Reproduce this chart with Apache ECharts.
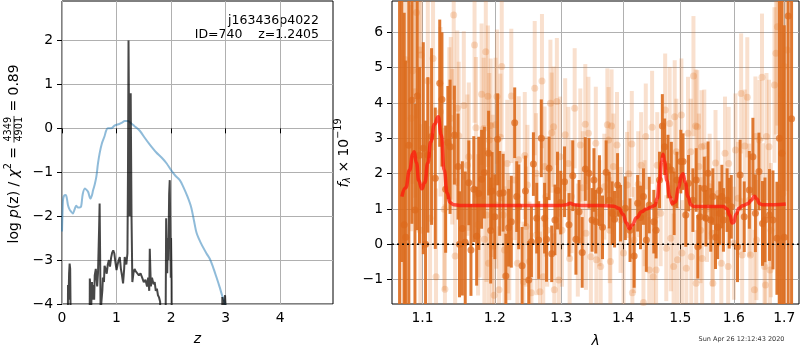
<!DOCTYPE html>
<html>
<head>
<meta charset="utf-8">
<script src="https://cdn.jsdelivr.net/npm/echarts@6/dist/echarts.min.js"></script>
<style>
html, body { margin: 0; padding: 0; background: #fff; }
#chart { width: 800px; height: 350px; }
</style>
</head>
<body>
<div id="chart"></div>
<script>
// left panel: log p(z)
const zTicks = [0, 1, 2, 3, 4];
const lnpTicks = [-4, -3, -2, -1, 0, 1, 2];

const priorZ = [0.00, 0.01, 0.02, 0.04, 0.07, 0.09, 0.11, 0.14, 0.17, 0.20,
  0.23, 0.26, 0.29, 0.32, 0.35, 0.38, 0.42, 0.45, 0.48, 0.52,
  0.55, 0.57, 0.60, 0.63, 0.66, 0.69, 0.73, 0.78, 0.81, 0.84,
  0.90, 0.97, 1.05, 1.10, 1.15, 1.21, 1.27, 1.33, 1.43, 1.52,
  1.61, 1.73, 1.83, 1.92, 2.01, 2.08, 2.16, 2.22, 2.30, 2.37,
  2.42, 2.47, 2.55, 2.65, 2.71, 2.77, 2.83, 2.89, 2.94, 2.99, 3.02];
const priorVal = [-2.35, -1.90, -1.62, -1.53, -1.52, -1.60, -1.75, -1.85, -1.90, -1.94,
  -1.85, -1.76, -1.80, -1.80, -1.78, -1.50, -1.37, -1.40, -1.45, -1.60,
  -1.52, -1.41, -1.28, -1.10, -0.80, -0.57, -0.35, -0.18, -0.05, 0.00,
  0.00, 0.07, 0.10, 0.13, 0.17, 0.17, 0.11, 0.05, -0.06, -0.22,
  -0.37, -0.55, -0.67, -0.80, -0.97, -1.08, -1.18, -1.32, -1.55, -1.80,
  -2.10, -2.39, -2.62, -2.85, -2.97, -3.16, -3.38, -3.61, -3.82, -3.99, -4.20];

const pzZ = [0.00, 0.10, 0.11, 0.12, 0.13, 0.14, 0.15, 0.16, 0.17,
  0.50, 0.51, 0.52, 0.53, 0.55, 0.56, 0.57, 0.59, 0.60, 0.62,
  0.63, 0.645, 0.66, 0.68, 0.69, 0.70, 0.71, 0.72, 0.74, 0.75,
  0.77, 0.78, 0.80, 0.82, 0.84, 0.86, 0.88, 0.90, 0.92, 0.94,
  0.96, 0.98, 1.00, 1.02, 1.04, 1.06, 1.08, 1.10, 1.12, 1.14,
  1.15, 1.17, 1.18, 1.20, 1.21, 1.22, 1.23, 1.24, 1.25, 1.26,
  1.265, 1.275, 1.29, 1.31, 1.33, 1.35, 1.38, 1.41, 1.44, 1.47,
  1.50, 1.53, 1.56, 1.58, 1.60, 1.61, 1.62, 1.63, 1.65, 1.68,
  1.70, 1.72, 1.74, 1.76, 1.78, 1.80, 1.82,
  1.89, 1.90, 1.91, 1.92, 1.93, 1.94, 1.95, 1.965, 1.976, 1.985, 1.995, 2.00, 2.01, 2.02,
  2.93, 2.94, 2.96, 2.99, 3.01, 3.02, 4.97];
const pzVal = [-8, -8, -3.57, -3.9, -3.3, -3.08, -3.2, -4.5, -8,
  -8, -3.42, -3.6, -4.3, -3.5, -3.9, -3.57, -3.9, -3.35, -3.2,
  -3.16, -3.6, -3.3, -2.3, -1.71, -3.0, -4.5, -3.99, -3.69, -3.4,
  -3.5, -3.13, -3.2, -3.31, -3.1, -3.0, -3.15, -2.95, -2.83, -2.78,
  -2.85, -3.05, -3.23, -3.1, -3.0, -2.93, -3.2, -3.35, -3.53, -3.2,
  -2.93, -2.9, -3.1, -2.85, -1.0, 2.0, 0.0, -2.0, -1.0, 0.8,
  -0.2, -2.0, -3.5, -3.3, -3.2, -3.25, -3.3, -3.35, -3.3, -3.4,
  -3.5, -3.45, -3.6, -3.4, -3.7, -2.74, -3.2, -3.6, -3.4, -3.55,
  -3.5, -3.7, -3.65, -3.8, -3.85, -3.95, -8,
  -8, -4.5, -2.05, -3.0, -3.3, -2.5, -3.0, -1.5, -1.18, -2.2, -3.4, -2.5, -3.5, -8,
  -8, -3.84, -4.2, -3.8, -4.3, -8, -8];

// right panel: spectrum
const waveTicks = [1.1, 1.2, 1.3, 1.4, 1.5, 1.6, 1.7];
const fluxTicks = [-1, 0, 1, 2, 3, 4, 5, 6];

const specWave = [1.070, 1.073, 1.076, 1.078, 1.082, 1.086, 1.090, 1.093, 1.096, 1.101,
  1.104, 1.107, 1.112, 1.117, 1.123, 1.126, 1.131, 1.134, 1.137, 1.143,
  1.148, 1.150, 1.154, 1.158, 1.163, 1.166, 1.170, 1.174, 1.177, 1.181,
  1.185, 1.191, 1.194, 1.196,
  1.200, 1.204, 1.207, 1.212, 1.216, 1.220, 1.224, 1.229, 1.232, 1.235,
  1.240, 1.245, 1.250, 1.254, 1.257, 1.262, 1.265, 1.269, 1.274, 1.277,
  1.281, 1.285, 1.290, 1.294, 1.299, 1.305, 1.312, 1.318, 1.323, 1.328,
  1.333, 1.338, 1.344, 1.349, 1.352,
  1.355, 1.361, 1.366, 1.372, 1.377, 1.382, 1.386, 1.391, 1.396, 1.404,
  1.412, 1.419, 1.425, 1.430, 1.435, 1.440, 1.445, 1.453, 1.457, 1.463,
  1.468, 1.472, 1.478, 1.484, 1.489, 1.494, 1.501, 1.505, 1.510, 1.515,
  1.523, 1.529,
  1.532, 1.536, 1.544, 1.547, 1.551, 1.556, 1.560, 1.565, 1.569, 1.573,
  1.577, 1.580, 1.587, 1.591, 1.595, 1.607, 1.612, 1.620, 1.630, 1.637,
  1.642, 1.649, 1.656, 1.661, 1.670, 1.677, 1.685, 1.690, 1.695, 1.700,
  1.708, 1.715];
const specFlux = [-2.0, 7.5, 0.55, 0.20, 2.8, 4.08, 0.97, 4.20, 2.52, 2.72,
  0.00, 2.53, 3.05, 1.87, 4.56, 4.10, 1.56, 2.88, 2.76, 3.09,
  2.20, 0.00, 0.45, 0.06, 1.74, -0.16, 1.56, 0.23, 1.44, 1.84,
  2.03, 2.58, 0.39, 1.51,
  0.78, 2.97, 1.44, 1.46, -0.90, 0.47, 0.64, 3.44, 1.35, 1.06,
  -0.61, 1.51, -1.01, 0.07, 2.27, 0.74, 0.12, 3.00, 0.74, 0.14,
  2.15, -0.27, 0.69, 1.52, 1.18, 1.77, 0.55, 1.94, 0.14, 0.92,
  -0.23, 2.13, 2.01, 0.69, 1.82,
  0.64, 1.52, 0.48, 2.04, 1.25, 0.88, 0.71, 1.68, 0.88, 1.02,
  0.40, -0.33, 1.16, 0.76, 1.35, 0.12, 1.11, 0.64, 0.40, 1.82,
  3.35, 2.76, 2.20, 2.10, 1.16, 1.82, 2.34, 2.34, 0.83, 1.73,
  1.25, 1.82,
  -0.07, 0.78, 1.58, 0.74, 2.01, 0.69, 1.35, 0.20, 0.48, 0.88,
  1.35, 0.69, 1.25, 0.88, 1.06, -0.07, 1.96, 0.78, 1.54, 2.48,
  0.88, 2.06, 0.59, 0.69, 0.83, 0.69, 0.17, 3.0, 2.58, 0.20,
  6.46, 3.55];
const specErr = [9, 8, 6, 5, 4.5, 3.5, 3.0, 3.8, 2.5, 3.0,
  3.5, 2.2, 2.5, 2.0, 1.8, 1.9, 1.8, 1.6, 1.9, 1.4,
  1.5, 1.5, 1.9, 2.0, 1.2, 1.3, 1.5, 1.4, 1.6, 1.4,
  1.3, 1.2, 1.5, 1.1,
  1.2, 1.3, 1.2, 1.1, 1.2, 1.1, 1.3, 1.0, 1.0, 1.2,
  1.1, 1.0, 1.1, 1.0, 0.9, 1.0, 1.1, 1.1, 1.0, 1.2,
  0.9, 0.8, 1.0, 1.1, 0.9, 1.0, 0.9, 1.0, 1.0, 0.9,
  1.0, 0.9, 1.0, 0.9, 0.9,
  0.9, 1.0, 0.9, 0.9, 0.8, 0.9, 0.8, 0.9, 0.8, 0.9,
  0.9, 0.9, 0.8, 0.9, 0.8, 0.9, 0.8, 0.9, 0.8, 0.8,
  0.9, 0.8, 0.9, 0.8, 0.9, 0.8, 0.9, 0.8, 0.9, 0.8,
  0.9, 0.9,
  0.9, 0.9, 0.9, 0.8, 0.9, 0.9, 0.8, 0.9, 0.9, 0.9,
  0.9, 0.9, 0.9, 1.0, 0.9, 1.0, 1.0, 1.0, 1.1, 1.1,
  1.1, 1.1, 1.2, 1.2, 1.3, 1.4, 1.6, 8, 8, 6,
  9, 9];

const spec2Wave = [1.074, 1.078, 1.085, 1.087, 1.090, 1.092, 1.096, 1.097, 1.098, 1.107,
  1.110, 1.114, 1.118, 1.124, 1.129, 1.130, 1.136, 1.138, 1.140, 1.142,
  1.144, 1.147, 1.149, 1.156, 1.161, 1.163, 1.171, 1.173, 1.176, 1.178,
  1.181, 1.184, 1.185, 1.187, 1.188, 1.190, 1.191, 1.192, 1.194, 1.195,
  1.196, 1.197,
  1.199, 1.201, 1.202, 1.203, 1.206, 1.208, 1.210, 1.212, 1.214, 1.218,
  1.219, 1.221, 1.224, 1.229, 1.233, 1.235, 1.242, 1.244, 1.246, 1.248,
  1.251, 1.254, 1.259, 1.261, 1.262, 1.267, 1.270, 1.272, 1.274, 1.276,
  1.278, 1.283, 1.285, 1.288, 1.289, 1.293, 1.296, 1.298, 1.301, 1.306,
  1.311, 1.313, 1.316, 1.321, 1.326, 1.330, 1.334, 1.338, 1.339, 1.343,
  1.347,
  1.355, 1.356, 1.361, 1.363, 1.369, 1.374, 1.376, 1.378, 1.379, 1.381,
  1.384, 1.390, 1.396, 1.401, 1.407, 1.410, 1.415, 1.416, 1.419, 1.426,
  1.431, 1.435, 1.437, 1.439, 1.445, 1.450, 1.452, 1.457, 1.459, 1.465,
  1.473, 1.475, 1.481, 1.483, 1.488, 1.490, 1.493, 1.495, 1.502, 1.503,
  1.511, 1.514, 1.519, 1.520, 1.524, 1.528, 1.529,
  1.531, 1.534, 1.537, 1.539, 1.540, 1.544, 1.549, 1.554, 1.559, 1.560,
  1.565, 1.570, 1.576, 1.583, 1.589, 1.590, 1.600, 1.603, 1.608, 1.614,
  1.616, 1.621, 1.626, 1.630, 1.632, 1.640, 1.642, 1.644, 1.650, 1.655,
  1.657, 1.660, 1.662, 1.664, 1.669, 1.671, 1.673, 1.680, 1.683, 1.686,
  1.690, 1.695, 1.697, 1.700, 1.706];
const spec2Flux = [1.50, 5.22, 3.57, 4.91, 4.32, 6.56, 5.50, 0.40, 5.36, 4.62,
  0.74, 5.26, -0.92, 3.75, 0.99, -1.27, 3.28, 3.57, 2.76, 6.49,
  -0.33, 3.85, 3.07, 3.93, 2.24, 2.48, 5.64, 3.30, 0.55, 1.06,
  4.25, 3.28, 0.14, 5.45, 0.83, 4.19, -0.54, 2.95, 3.36, 1.54,
  -0.07, 1.77,
  -1.44, 3.38, 1.11, 4.18, -1.29, 3.03, 5.03, 0.83, -0.16, 2.29,
  0.31, 0.12, 4.20, 1.82, -0.54, 2.39, -1.06, 2.51, 0.50, 1.68,
  -0.49, -1.37, 4.42, 2.01, 0.26, -1.34, 4.62, -0.92, 2.20, 1.35,
  0.40, 3.99, 3.16, 3.33, -1.29, 4.04, -1.01, 2.48, 0.40, 3.10,
  2.29, -0.40, 1.35, 3.85, 0.12, 2.81, 1.60, 3.40, 0.31, 3.14,
  -0.35,
  2.86, -0.44, 0.88, -0.63, 1.63, 3.38, 2.95, 0.40, -0.49, 3.35,
  2.20, 2.81, 0.69, -0.25, 1.68, 2.00, 2.84, -1.37, 0.12, 1.70,
  2.24, -1.65, 0.88, 3.05, -0.73, 3.31, -0.92, -0.73, 2.24, 0.88,
  3.80, -0.11, 3.42, 0.17, -0.63, 3.61, 2.62, -0.44, 3.66, -0.25,
  -0.68, 3.14, 2.62, -0.35, 4.76, 3.35, -1.10,
  3.33, 2.20, 0.40, 2.76, -0.40, 2.78, 1.00, 1.63, 0.31, -1.10,
  2.30, 1.44, -0.54, 2.58, -0.63, 2.29, 0.03, 2.67, 1.30, 4.27,
  -0.30, 2.78, 4.16, 1.25, -0.30, -1.29, 3.05, 0.12, 2.95, 4.73,
  1.16, -0.63, -1.15, 3.05, 2.76, -0.73, 0.40, 4.51, 5.41, 6.16,
  -0.80, 4.23, 1.44, 5.03, 5.50];
const spec2Err = [4.0, 3.5, 3.2, 3.2, 3.0, 3.0, 2.8, 3.0, 2.8, 2.7,
  2.6, 2.6, 2.5, 2.4, 2.3, 2.4, 2.3, 2.3, 2.2, 2.4,
  2.2, 2.2, 2.1, 2.1, 2.0, 2.1, 2.2, 2.0, 2.0, 2.0,
  2.0, 2.0, 1.9, 2.1, 1.9, 2.0, 1.9, 1.9, 1.9, 1.9,
  1.8, 1.9,
  1.8, 1.9, 1.8, 1.9, 1.8, 1.8, 2.0, 1.8, 1.8, 1.8,
  1.7, 1.7, 1.9, 1.7, 1.7, 1.8, 1.7, 1.8, 1.7, 1.7,
  1.7, 1.7, 1.9, 1.7, 1.7, 1.7, 1.9, 1.7, 1.7, 1.7,
  1.6, 1.8, 1.7, 1.7, 1.6, 1.8, 1.6, 1.7, 1.6, 1.6,
  1.6, 1.6, 1.6, 1.7, 1.6, 1.6, 1.6, 1.7, 1.6, 1.6,
  1.6,
  1.6, 1.6, 1.5, 1.5, 1.5, 1.6, 1.5, 1.5, 1.5, 1.6,
  1.5, 1.5, 1.5, 1.5, 1.5, 1.5, 1.5, 1.5, 1.5, 1.5,
  1.5, 1.5, 1.5, 1.5, 1.5, 1.6, 1.5, 1.5, 1.5, 1.5,
  1.6, 1.5, 1.6, 1.5, 1.5, 1.6, 1.5, 1.5, 1.6, 1.5,
  1.5, 1.6, 1.5, 1.5, 1.7, 1.6, 1.5,
  1.6, 1.5, 1.5, 1.6, 1.5, 1.6, 1.5, 1.5, 1.5, 1.5,
  1.5, 1.5, 1.5, 1.6, 1.5, 1.6, 1.6, 1.6, 1.6, 1.7,
  1.6, 1.6, 1.7, 1.6, 1.6, 1.7, 1.7, 1.7, 1.7, 1.8,
  1.7, 1.8, 1.8, 1.8, 1.9, 1.9, 1.9, 2.2, 2.3, 2.8,
  2.5, 3.0, 3.2, 3.5, 4.0];

const modelWave = [1.073, 1.078, 1.083, 1.087, 1.089, 1.092, 1.095, 1.099, 1.103, 1.107,
  1.111, 1.116, 1.121, 1.125, 1.129, 1.133, 1.137, 1.142, 1.150, 1.200,
  1.250, 1.300, 1.308, 1.314, 1.320, 1.330, 1.360, 1.385, 1.393, 1.400,
  1.406, 1.411, 1.416, 1.423, 1.432, 1.440, 1.448, 1.455, 1.459, 1.463,
  1.467, 1.469, 1.472, 1.476, 1.481, 1.486, 1.491, 1.497, 1.502, 1.505,
  1.509, 1.514, 1.519, 1.525, 1.550, 1.580, 1.587, 1.592, 1.597, 1.600,
  1.604, 1.610, 1.618, 1.627, 1.634, 1.640, 1.645, 1.650, 1.656, 1.680, 1.703];
const modelFlux = [1.35, 1.60, 2.10, 2.55, 2.62, 2.30, 1.80, 1.57, 1.75, 2.30,
  2.90, 3.40, 3.61, 3.10, 2.10, 1.45, 1.18, 1.12, 1.10, 1.10,
  1.10, 1.10, 1.12, 1.16, 1.12, 1.10, 1.10, 1.08, 1.02, 0.85,
  0.60, 0.44, 0.55, 0.75, 0.92, 1.00, 1.05, 1.10, 1.30, 1.80,
  2.35, 2.55, 2.35, 1.80, 1.35, 1.15, 1.20, 1.60, 1.95, 2.00,
  1.75, 1.35, 1.12, 1.07, 1.07, 1.07, 1.00, 0.82, 0.60, 0.62,
  0.85, 1.02, 1.10, 1.15, 1.25, 1.36, 1.28, 1.15, 1.12, 1.12, 1.14];

const WAVE_MIN = 1.0603;
const WAVE_MAX = 1.7304;

const FONT = 'DejaVu Sans';
const GRID_COLOR = '#b0b0b0';
const ORANGE = 'rgba(220,106,28,0.9)';
const ORANGE_LIGHT = 'rgba(228,114,34,0.22)';
const ORANGE_DOT = 'rgba(228,114,34,0.3)';

const minus = v => String(v).replace('-', '\u2212');

const ctx = document.createElement('canvas').getContext('2d');
function textWidth(s, font) {
  ctx.font = font;
  return ctx.measureText(s).width;
}

function txt(text, font, x, y, align) {
  return {
    type: 'text', x: x, y: y,
    style: { text: text, font: font, fill: '#000', textAlign: align, textVerticalAlign: 'middle', align: align, verticalAlign: 'middle' }
  };
}

// vertical (rotated) axis title made of pieces
function rotatedLabel(cx, cy, parts) {
  const children = [];
  let x = 0;
  parts.forEach(p => {
    if (p.frac) {
      const w = Math.max(textWidth(p.frac[0], p.font), textWidth(p.frac[1], p.font)) + 2;
      children.push(txt(p.frac[0], p.font, x + w / 2, -5.5, 'center'));
      children.push(txt(p.frac[1], p.font, x + w / 2, 5.5, 'center'));
      children.push({ type: 'line', shape: { x1: x, y1: 0, x2: x + w, y2: 0 }, style: { stroke: '#000', lineWidth: 0.8 } });
      x += w;
    } else {
      children.push(txt(p.text, p.font, x, p.dy || 0, 'left'));
      x += textWidth(p.text, p.font);
    }
  });
  const half = x / 2;
  children.forEach(c => {
    if (c.type === 'text') c.x -= half;
    else { c.shape.x1 -= half; c.shape.x2 -= half; }
  });
  return { type: 'group', x: cx, y: cy, rotation: Math.PI / 2, children: children };
}

function errorBarSeries(wave, flux, err, color, w) {
  return {
    type: 'custom',
    xAxisIndex: 1,
    yAxisIndex: 1,
    silent: true,
    data: wave.map((l, i) => [Math.log(l), flux[i] - err[i], flux[i] + err[i]]),
    encode: { x: 0, y: [1, 2] },
    renderItem: function (params, api) {
      const top = api.coord([api.value(0), api.value(2)]);
      const bot = api.coord([api.value(0), api.value(1)]);
      const rect = echarts.graphic.clipRectByRect(
        { x: top[0] - w / 2, y: top[1], width: w, height: bot[1] - top[1] },
        params.coordSys
      );
      if (!rect) return null;
      return { type: 'rect', shape: rect, style: { fill: color } };
    }
  };
}

function pointSeries(wave, flux, color, size) {
  return {
    type: 'scatter',
    xAxisIndex: 1,
    yAxisIndex: 1,
    silent: true,
    symbolSize: size,
    itemStyle: { color: color },
    data: wave.map((l, i) => [Math.log(l), flux[i]])
  };
}

function valueAxis(grid, min, max, ticks, fmt, margin) {
  return {
    type: 'value',
    gridIndex: grid,
    min: min,
    max: max,
    axisLine: { show: false },
    axisTick: { show: true, length: 5, customValues: ticks, lineStyle: { color: '#000', width: 1 } },
    axisLabel: { customValues: ticks, color: '#000', fontFamily: FONT, fontSize: 13.9, margin: margin, formatter: fmt },
    splitLine: { show: true, lineStyle: { color: GRID_COLOR, width: 1 } }
  };
}

const big = "13.9px 'DejaVu Sans'";
const bigIt = "italic 13.9px 'DejaVu Sans'";
const small = "9.7px 'DejaVu Sans'";
const smallIt = "italic 9.7px 'DejaVu Sans'";

const chart = echarts.init(document.getElementById('chart'));
chart.setOption({
  animation: false,
  backgroundColor: '#fff',
  grid: [
    { left: 62, top: 1, width: 271, height: 303, show: true, borderColor: '#000', borderWidth: 1 },
    { left: 392, top: 1, width: 407, height: 303, show: true, borderColor: '#000', borderWidth: 1 }
  ],
  xAxis: [
    valueAxis(0, 0, 4.97, zTicks, v => String(Math.round(v)), 7),
    valueAxis(1, Math.log(WAVE_MIN), Math.log(WAVE_MAX), waveTicks.map(Math.log), v => Math.exp(v).toFixed(1), 7)
  ],
  yAxis: [
    valueAxis(0, -4, 2.9, lnpTicks, v => minus(Math.round(v)), 9),
    valueAxis(1, -1.69, 6.886, fluxTicks, v => minus(Math.round(v)), 9)
  ],
  series: [
    {
      type: 'line', xAxisIndex: 0, yAxisIndex: 0, silent: true,
      symbol: 'none', smooth: 0.3,
      lineStyle: { color: 'rgba(31,119,180,0.5)', width: 2 },
      data: priorZ.map((z, i) => [z, priorVal[i]])
    },
    {
      type: 'line', xAxisIndex: 0, yAxisIndex: 0, silent: true,
      symbol: 'none',
      lineStyle: { color: 'rgba(0,0,0,0.72)', width: 2 },
      data: pzZ.map((z, i) => [z, pzVal[i]])
    },
    errorBarSeries(spec2Wave, spec2Flux, spec2Err, ORANGE_LIGHT, 4),
    pointSeries(spec2Wave, spec2Flux, ORANGE_DOT, 7),
    errorBarSeries(specWave, specFlux, specErr, ORANGE, 3),
    pointSeries(specWave, specFlux, ORANGE, 7),
    {
      type: 'line', xAxisIndex: 1, yAxisIndex: 1, silent: true,
      symbol: 'none', smooth: true, smoothMonotone: 'x',
      lineStyle: { color: 'rgba(255,20,10,0.72)', width: 3.5 },
      data: modelWave.map((l, i) => [Math.log(l), modelFlux[i]])
    },
    {
      type: 'line', xAxisIndex: 1, yAxisIndex: 1, silent: true,
      symbol: 'none',
      lineStyle: { color: '#000', width: 1.6, type: [2, 3] },
      data: [[Math.log(WAVE_MIN), 0], [Math.log(WAVE_MAX), 0]]
    }
  ],
  graphic: [
    txt('j163436p4022', "12.5px 'DejaVu Sans'", 319, 20.5, 'right'),
    txt('ID=740    z=1.2405', "12.5px 'DejaVu Sans'", 319, 34.5, 'right'),
    rotatedLabel(14, 154, [
      { text: 'log ', font: big },
      { text: 'p', font: bigIt },
      { text: '(z) / ', font: big },
      { text: '\u03c7', font: bigIt },
      { text: '2', font: small, dy: -6 },
      { text: ' = ', font: big },
      { frac: ['4349', '4901'], font: small },
      { text: ' = 0.89', font: big }
    ]),
    rotatedLabel(344, 153, [
      { text: 'f', font: bigIt },
      { text: '\u03bb', font: smallIt, dy: 3.5 },
      { text: ' \u00d7 10', font: big },
      { text: '\u221219', font: small, dy: -6 }
    ]),
    txt('z', bigIt, 197.5, 339.5, 'center'),
    txt('\u03bb', bigIt, 595.5, 341, 'center'),
    {
      type: 'text', x: 741.5, y: 339.5,
      style: { text: 'Sun Apr 26 12:12:43 2020', font: "6.5px 'DejaVu Sans'", fill: '#333', textAlign: 'center', textVerticalAlign: 'middle', align: 'center', verticalAlign: 'middle' }
    }
  ]
});
</script>
</body>
</html>
